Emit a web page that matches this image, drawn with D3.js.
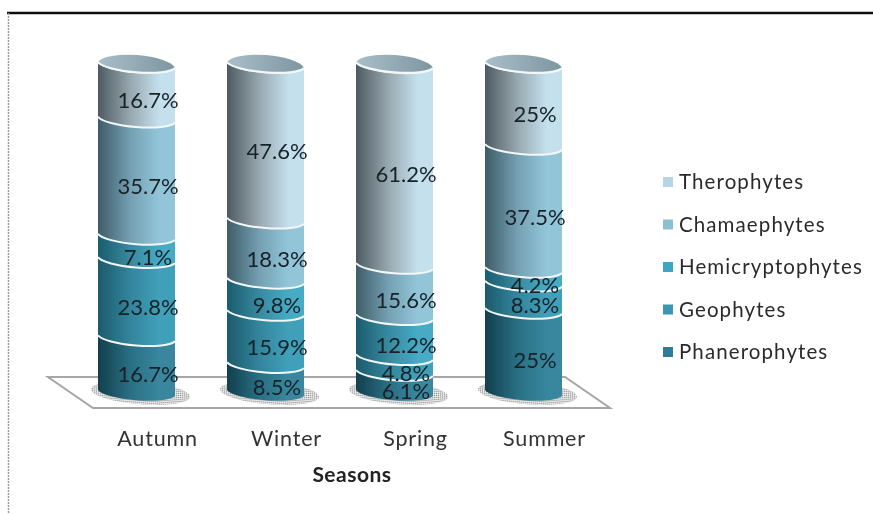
<!DOCTYPE html>
<html><head><meta charset="utf-8">
<script src="https://cdnjs.cloudflare.com/ajax/libs/d3/7.8.5/d3.min.js"></script>
<style>html,body{margin:0;padding:0;background:#fff}svg{display:block}text{font-family:Lato,"Open Sans",sans-serif}</style>
</head><body><svg id="c" width="873" height="514"></svg>
<script>
const seasons = ["Autumn","Winter","Spring","Summer"];
const seriesNames = ["Phanerophytes","Geophytes","Hemicryptophytes","Chamaephytes","Therophytes"];
const phanerophytes = [16.7,8.5,6.1,25];
const geophytes = [23.8,15.9,4.8,8.3];
const hemicryptophytes = [7.1,9.8,12.2,4.2];
const chamaephytes = [35.7,18.3,15.6,37.5];
const therophytes = [16.7,47.6,61.2,25];
const seriesValues = [phanerophytes,geophytes,hemicryptophytes,chamaephytes,therophytes];
const swatchColors = ["#2f7d94","#3a96b0","#3ea6c3","#8dbfd3","#b5d5e3"];
const gradStops = [
  ["#123f4d","#2a6f84","#38879e"],
  ["#1d5a6c","#33859d","#40a0ba"],
  ["#1b5c6e","#38899f","#46abc6"],
  ["#3e5c68","#74a0b2","#93c5d9"],
  ["#4d5a61","#98a8b0","#c4e0ed"]];

const svg = d3.select("#c");
const defs = svg.append("defs");
const soft = defs.append("filter").attr("id","soft").attr("x",0).attr("y",0).attr("width",1).attr("height",1);
soft.append("feGaussianBlur").attr("stdDeviation",0.4);
const dots = defs.append("pattern").attr("id","dots").attr("width",2).attr("height",2).attr("patternUnits","userSpaceOnUse");
dots.append("rect").attr("width",1.3).attr("height",1.3).attr("fill","#8c8c8c");
seriesNames.forEach((n,i)=>{
  const g = defs.append("linearGradient").attr("id","g"+i);
  gradStops[i].forEach((c,j)=>g.append("stop").attr("offset",[0,.42,.8][j]).attr("stop-color",c));
});
const tg = defs.append("linearGradient").attr("id","gt");
[["#a9bec8",0],["#7e96a2",1]].forEach(d=>tg.append("stop").attr("offset",d[1]).attr("stop-color",d[0]));

const root = svg.append("g").attr("filter","url(#soft)");
root.append("rect").attr("x",0).attr("y",0).attr("width",873).attr("height",514).attr("fill","#fff");
root.append("line").attr("x1",7).attr("x2",873).attr("y1",13).attr("y2",13).attr("stroke","#111").attr("stroke-width",2.4);
root.append("line").attr("x1",8.5).attr("x2",8.5).attr("y1",13).attr("y2",514).attr("stroke","#9a9a9a").attr("stroke-width",1.5).attr("stroke-dasharray","2 1");

const x = d3.scaleBand().domain(seasons).range([98,562]).paddingInner(1-77/129).paddingOuter(0).align(0);
const y = d3.scaleLinear().domain([0,100]).range([390,62]);
const w = x.bandwidth(), tilt = 6, rx = 39.2, ry = 8.8, ryBack = 12, rot = 4.5;

// floor
const floorPts = [[48,377],[565,377],[610,408],[93,408]];
root.append("path").attr("d",d3.line()(floorPts)+"Z").attr("fill","#fff").attr("stroke","#a6a6a6").attr("stroke-width",2);

const rows = seasons.map((s,i)=>{const r={season:s};seriesNames.forEach((n,k)=>r[n]=seriesValues[k][i]);return r;});
const stacked = d3.stack().keys(seriesNames)(rows);

// shadows
root.selectAll(".sh").data(seasons).join("ellipse").attr("class","sh")
  .attr("cx",d=>x(d)+w/2+4).attr("cy",y(0)+3)
  .attr("rx",rx+10.5).attr("ry",ry+2.5).attr("fill","url(#dots)")
  .attr("transform",d=>`rotate(${rot} ${x(d)+w/2+4} ${y(0)+3})`);

const front = (x0,yy)=>`A${rx} ${ry} ${rot} 0 0 ${x0+w} ${yy+tilt}`;

stacked.forEach((layer,k)=>{
  const g = root.append("g");
  g.selectAll("path.seg").data(layer).join("path").attr("class","seg")
    .attr("fill",`url(#g${k})`)
    .attr("d",d=>{
      const x0=x(d.data.season), b=y(d[0]), t=y(Math.min(d[1],100));
      return `M${x0} ${b}${front(x0,b)}L${x0+w} ${t+tilt}A${rx} ${ry} ${rot} 0 1 ${x0} ${t}Z`;
    });
});
// boundaries, drawn over the segments
stacked.forEach((layer,k)=>{
  root.append("g").selectAll("path").data(layer).join("path")
    .attr("fill","none").attr("stroke","#f4f7f8").attr("stroke-width",2)
    .attr("d",d=>{const x0=x(d.data.season), t=y(Math.min(d[1],100)); return `M${x0} ${t}${front(x0,t)}`;});
});
// top faces
root.selectAll(".top").data(seasons).join("path").attr("class","top")
  .attr("fill","url(#gt)")
  .attr("d",d=>{const x0=x(d),t=y(100);return `M${x0} ${t}${front(x0,t)}A${rx} ${ryBack} ${rot} 0 0 ${x0} ${t}Z`;});
root.selectAll(".topEdge").data(seasons).join("path").attr("class","topEdge")
  .attr("fill","none").attr("stroke","#f4f7f8").attr("stroke-width",2)
  .attr("d",d=>{const x0=x(d),t=y(100);return `M${x0} ${t}${front(x0,t)}`;});

// value labels
stacked.forEach((layer,k)=>{
  root.append("g").selectAll("text").data(layer).join("text")
    .attr("x",d=>x(d.data.season)+w/2+11.5)
    .attr("y",d=>(y(d[0])+y(d[1]))/2+19)
    .attr("text-anchor","middle").attr("font-size",22).attr("fill","#172228")
    .text(d=>d.data[seriesNames[k]]+"%");
});

// category axis
const axis = d3.axisBottom(d3.scaleBand().domain(seasons).range([98+21,562+21]).paddingInner(1-77/129).paddingOuter(0).align(0)).tickSize(0).tickPadding(0);
const ax = root.append("g").attr("transform","translate(0,431)").call(axis);
ax.select(".domain").remove();
ax.selectAll("text").attr("font-size",21.5).attr("fill","#333").attr("font-family",'Lato,sans-serif').attr("letter-spacing",0.8);
root.append("text").attr("x",352).attr("y",482).attr("text-anchor","middle").attr("font-size",21).attr("letter-spacing",0.5).attr("font-weight",700).attr("fill","#222").text("Seasons");

// legend
const legendOrder = seriesNames.slice().reverse();
const ly = d3.scalePoint().domain(legendOrder).range([182,352]);
const lg = root.append("g").selectAll("g").data(legendOrder).join("g").attr("transform",d=>`translate(663,${ly(d)})`);
lg.append("rect").attr("x",0).attr("y",-5).attr("width",10).attr("height",10).attr("fill",d=>swatchColors[seriesNames.indexOf(d)]);
lg.append("text").attr("x",16).attr("y",7).attr("font-size",20.5).attr("letter-spacing",1.1).attr("fill","#2b2b2b").text(d=>d);
</script></body></html>
